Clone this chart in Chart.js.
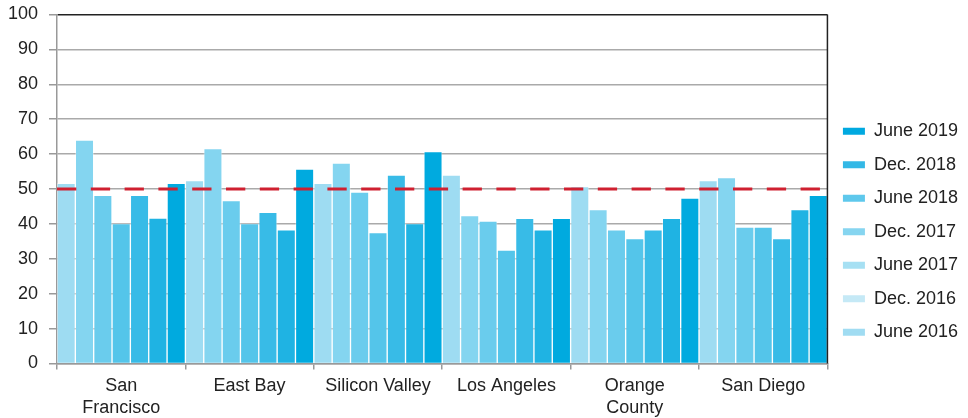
<!DOCTYPE html>
<html lang="en">
<head>
  <meta charset="UTF-8">
  <title>Regional Index</title>
  <script src="https://cdn.jsdelivr.net/npm/chart.js"></script>
  <style>
    body { margin: 0; background: #ffffff; }
    #wrap { width: 968px; height: 418px; }
  </style>
</head>
<body>
<div id="wrap">
  <canvas id="regionChart" width="968" height="418"></canvas>
</div>

<script>
  // categories along the x axis
  const regions = [['San', 'Francisco'], 'East Bay', 'Silicon Valley', 'Los Angeles', ['Orange', 'County'], 'San Diego'];

  // one series per survey period
  const periods = ['June 2016', 'Dec. 2016', 'June 2017', 'Dec. 2017', 'June 2018', 'Dec. 2018', 'June 2019'];
  const june2016 = [51.6, 52.4, 51.6, 54.0, 50.7, 52.4];
  const dec2016  = [64.0, 61.6, 57.4, 42.4, 44.1, 53.3];
  const june2017 = [48.2, 46.7, 49.1, 40.8, 38.3, 39.1];
  const dec2017  = [40.1, 40.1, 37.5, 32.5, 35.8, 39.1];
  const june2018 = [48.2, 43.3, 54.0, 41.6, 38.3, 35.8];
  const dec2018  = [41.7, 38.3, 40.1, 38.3, 41.6, 44.1];
  const june2019 = [51.6, 55.7, 60.7, 41.6, 47.4, 48.2];
  const seriesValues = [june2016, dec2016, june2017, dec2017, june2018, dec2018, june2019];

  const yTicks = [0, 10, 20, 30, 40, 50, 60, 70, 80, 90, 100];
  const threshold = 50;

  const barColors = ['#9edcf2', '#84d5f0', '#6acced', '#54c5ea', '#38bbe7', '#1fb3e3', '#00aadf'];
  const legendColors = ['#a0dcf2', '#c5e9f6', '#a6e0f3', '#86d5f0', '#5ec8ec', '#33b8e6', '#00a9e0'];

  const FONT = '"Liberation Sans", Helvetica, Arial, sans-serif';

  // red dashed reference line + dark right edge of the frame
  const framePlugin = {
    id: 'framePlugin',
    afterDatasetsDraw(chart) {
      const {ctx, chartArea, scales} = chart;
      const y = scales.y.getPixelForValue(threshold);
      ctx.save();
      ctx.strokeStyle = '#cf2030';
      ctx.lineWidth = 3;
      ctx.setLineDash([19.3, 14.5]);
      ctx.beginPath();
      ctx.moveTo(chartArea.left, y);
      ctx.lineTo(chartArea.right, y);
      ctx.stroke();
      ctx.setLineDash([]);
      ctx.strokeStyle = '#222';
      ctx.lineWidth = 1.5;
      ctx.beginPath();
      ctx.moveTo(chartArea.right, chartArea.top);
      ctx.lineTo(chartArea.right, chartArea.bottom);
      ctx.stroke();
      ctx.restore();
    }
  };

  document.addEventListener('DOMContentLoaded', function () {
    const ctx = document.getElementById('regionChart').getContext('2d');
    new Chart(ctx, {
      type: 'bar',
      data: {
        labels: regions,
        datasets: periods.map((name, i) => ({
          label: name,
          data: seriesValues[i],
          backgroundColor: barColors[i],
          borderColor: 'rgba(255,255,255,0.35)',
          borderWidth: 1,
          barPercentage: 1,
          categoryPercentage: 1
        }))
      },
      options: {
        responsive: false,
        animation: false,
        layout: { padding: { top: 14.5, right: 0, bottom: 0, left: 8 } },
        plugins: {
          tooltip: { enabled: false },
          legend: {
            position: 'right',
            reverse: true,
            title: { display: true, text: '', padding: { top: 0, bottom: 16.5 } },
            labels: {
              boxWidth: 22,
              boxHeight: 7,
              padding: 15.5,
              color: '#222',
              font: { family: FONT, size: 18 },
              generateLabels(chart) {
                return chart.data.datasets.map((ds, i) => ({
                  text: ds.label,
                  fillStyle: legendColors[i],
                  strokeStyle: legendColors[i],
                  fontColor: '#222',
                  lineWidth: 0,
                  hidden: false,
                  datasetIndex: i
                }));
              }
            }
          }
        },
        scales: {
          x: {
            afterFit(axis) { axis.height = 54.5; axis.paddingLeft = 0; axis.paddingRight = 0; },
            grid: { drawOnChartArea: false, tickLength: 6, tickColor: '#999', lineWidth: 1.5 },
            border: { color: '#999', width: 1.5 },
            ticks: { color: '#222', padding: 6, maxRotation: 0, font: { family: FONT, size: 18 } }
          },
          y: {
            min: 0,
            max: 100,
            afterBuildTicks(axis) { axis.ticks = yTicks.map(v => ({ value: v })); },
            afterFit(axis) { axis.width = 49; axis.paddingTop = 0; axis.paddingBottom = 0; },
            grid: {
              color: c => (c.tick && c.tick.value === 100 ? '#222' : '#aaa'),
              tickColor: '#999',
              tickLength: 8,
              lineWidth: 1.5
            },
            border: { color: '#999', width: 1.5 },
            ticks: { color: '#222', padding: 11, font: { family: FONT, size: 18 } }
          }
        }
      },
      plugins: [framePlugin]
    });
  });
</script>
</body>
</html>
